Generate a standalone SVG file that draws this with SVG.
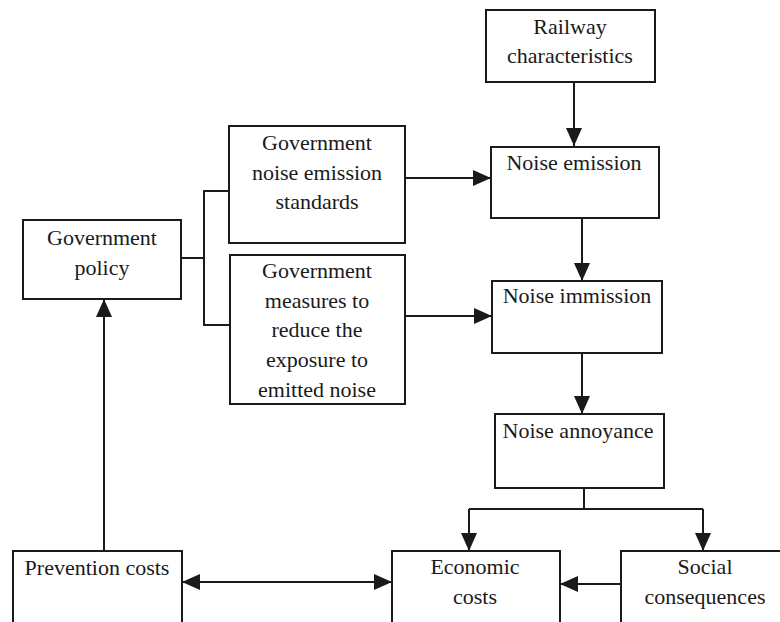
<svg xmlns="http://www.w3.org/2000/svg" width="780" height="622" viewBox="0 0 780 622">
<style>
.box{fill:#fff;stroke:#1a1a1a;stroke-width:2}
.t{font-family:"Liberation Serif","Times New Roman",serif;font-size:22px;fill:#1a1a1a;text-anchor:middle}
.c{fill:none;stroke:#1a1a1a;stroke-width:2}
</style>
<defs>
<marker id="ah" markerUnits="userSpaceOnUse" markerWidth="18" markerHeight="18" viewBox="0 0 18 18" refX="18" refY="9" orient="auto-start-reverse">
<path d="M0,1 L18,9 L0,17 Z" fill="#1a1a1a"/>
</marker>
</defs>
<rect width="780" height="622" fill="#fff"/>
<g id="connectors">
<line class="c" x1="574" y1="82" x2="574" y2="146" marker-end="url(#ah)"/>
<line class="c" x1="405" y1="178" x2="491" y2="178" marker-end="url(#ah)"/>
<line class="c" x1="405" y1="316" x2="492" y2="316" marker-end="url(#ah)"/>
<line class="c" x1="582" y1="218" x2="582" y2="281" marker-end="url(#ah)"/>
<line class="c" x1="582" y1="353" x2="582" y2="414" marker-end="url(#ah)"/>
<polyline class="c" points="181,258 204,258"/>
<polyline class="c" points="229,191 204,191 204,325 230,325"/>
<polyline class="c" points="584,488 584,509"/>
<polyline class="c" points="469,509 703,509"/>
<line class="c" x1="469" y1="509" x2="469" y2="551" marker-end="url(#ah)"/>
<line class="c" x1="703" y1="509" x2="703" y2="551" marker-end="url(#ah)"/>
<line class="c" x1="621" y1="584" x2="560" y2="584" marker-end="url(#ah)"/>
<line class="c" x1="182" y1="582" x2="392" y2="582" marker-start="url(#ah)" marker-end="url(#ah)"/>
<line class="c" x1="104" y1="551" x2="104" y2="299" marker-end="url(#ah)"/>
</g>
<g id="railway">
<rect class="box" x="486" y="10" width="169" height="72"/>
<text class="t" x="570" y="34">Railway</text>
<text class="t" x="570" y="63">characteristics</text>
</g>
<g id="noise-emission">
<rect class="box" x="491" y="147" width="168" height="71"/>
<text class="t" x="574" y="170">Noise emission</text>
</g>
<g id="gov-standards">
<rect class="box" x="229" y="126" width="176" height="117"/>
<text class="t" x="317" y="150">Government</text>
<text class="t" x="317" y="180">noise emission</text>
<text class="t" x="317" y="209">standards</text>
</g>
<g id="gov-policy">
<rect class="box" x="23" y="220" width="158" height="79"/>
<text class="t" x="102" y="245">Government</text>
<text class="t" x="102" y="275">policy</text>
</g>
<g id="gov-measures">
<rect class="box" x="230" y="255" width="175" height="149"/>
<text class="t" x="317" y="278">Government</text>
<text class="t" x="317" y="308">measures to</text>
<text class="t" x="317" y="337">reduce the</text>
<text class="t" x="317" y="367">exposure to</text>
<text class="t" x="317" y="397">emitted noise</text>
</g>
<g id="noise-immission">
<rect class="box" x="492" y="281" width="170" height="72"/>
<text class="t" x="577" y="303">Noise immission</text>
</g>
<g id="noise-annoyance">
<rect class="box" x="495" y="414" width="169" height="74"/>
<text class="t" x="578" y="438">Noise annoyance</text>
</g>
<g id="economic-costs">
<rect class="box" x="392" y="551" width="168" height="80"/>
<text class="t" x="475" y="574">Economic</text>
<text class="t" x="475" y="604">costs</text>
</g>
<g id="social-consequences">
<rect class="box" x="621" y="551" width="170" height="80"/>
<text class="t" x="705" y="574">Social</text>
<text class="t" x="705" y="604">consequences</text>
</g>
<g id="prevention-costs">
<rect class="box" x="13" y="551" width="169" height="80"/>
<text class="t" x="97" y="575">Prevention costs</text>
</g>
</svg>
